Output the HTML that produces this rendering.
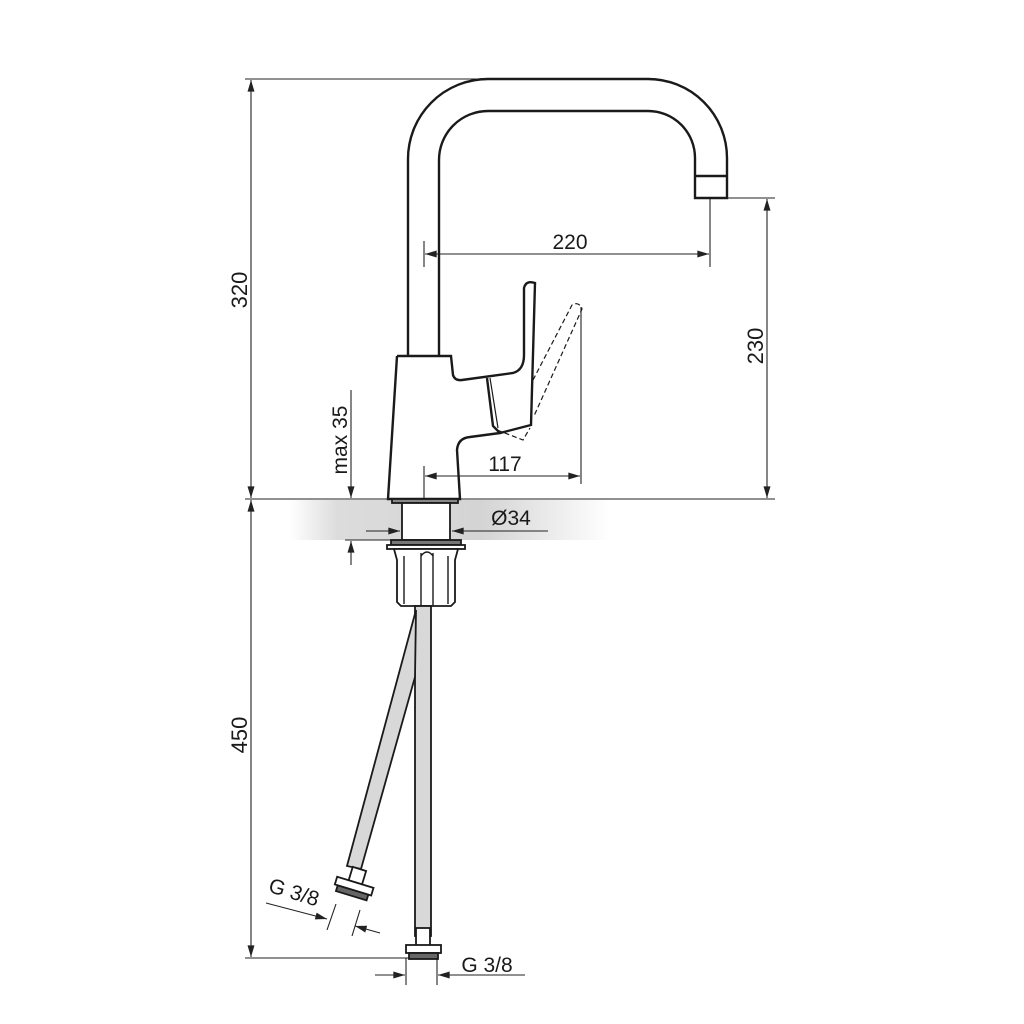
<!DOCTYPE html>
<html><head><meta charset="utf-8"><style>
html,body{margin:0;padding:0;background:#fff}
svg{display:block}
text{font-family:"Liberation Sans",sans-serif;fill:#1a1a1a}
</style></head><body>
<svg width="1024" height="1024" viewBox="0 0 1024 1024" xmlns="http://www.w3.org/2000/svg">
<defs>
<linearGradient id="g" x1="0" x2="1" y1="0" y2="0">
<stop offset="0" stop-color="#fff"/><stop offset="0.15" stop-color="#dcdcdc"/><stop offset="0.6" stop-color="#d4d4d4"/><stop offset="1" stop-color="#fff"/>
</linearGradient>
<marker id="a" viewBox="0 0 10 6" refX="10" refY="3" markerWidth="12" markerHeight="7" orient="auto-start-reverse" markerUnits="userSpaceOnUse"><path d="M0,0L10,3L0,6z" fill="#222"/></marker>
</defs>
<rect x="290" y="500" width="320" height="40" fill="url(#g)"/>
<g stroke="#222" fill="none" stroke-width="1.1">
<line x1="245" y1="79" x2="478" y2="79"/>
<line x1="245" y1="499" x2="775" y2="499"/>
<line x1="245" y1="958" x2="410" y2="958"/>
<line x1="710" y1="198" x2="775" y2="198"/>
<line x1="251" y1="80" x2="251" y2="498" marker-start="url(#a)" marker-end="url(#a)"/>
<line x1="251" y1="500" x2="251" y2="957" marker-start="url(#a)" marker-end="url(#a)"/>
<line x1="767" y1="199" x2="767" y2="498" marker-start="url(#a)" marker-end="url(#a)"/>
<line x1="424" y1="241" x2="424" y2="267"/>
<line x1="710" y1="198" x2="710" y2="267"/>
<line x1="425" y1="254" x2="709" y2="254" marker-start="url(#a)" marker-end="url(#a)"/>
<line x1="581" y1="307" x2="581" y2="484"/>
<line x1="424" y1="466" x2="424" y2="499"/>
<line x1="425" y1="476" x2="580" y2="476" marker-start="url(#a)" marker-end="url(#a)"/>
<line x1="351" y1="390" x2="351" y2="498" marker-end="url(#a)"/>
<line x1="351" y1="565" x2="351" y2="541" marker-end="url(#a)"/>
<line x1="345" y1="540" x2="400" y2="540"/>
<line x1="366" y1="531" x2="400" y2="531" marker-end="url(#a)"/>
<line x1="548" y1="531" x2="452" y2="531" marker-end="url(#a)"/>
<line x1="406" y1="958" x2="406" y2="985"/>
<line x1="437" y1="958" x2="437" y2="985"/>
<line x1="375" y1="975" x2="405" y2="975" marker-end="url(#a)"/>
<line x1="525" y1="975" x2="438" y2="975" marker-end="url(#a)"/>
<line x1="266" y1="903" x2="327" y2="919" marker-end="url(#a)"/>
<line x1="380" y1="933" x2="355" y2="926" marker-end="url(#a)"/>
<line x1="336" y1="904" x2="327" y2="930"/>
<line x1="360" y1="910" x2="352" y2="936"/>
</g>
<g stroke="#1a1a1a" stroke-width="2.4" fill="none">
<path d="M408,356 L408,160 A80,80 0 0 1 488,79 L648,79 A79,79 0 0 1 727,158 L727,198 L695,198 L695,158 A47,47 0 0 0 648,111 L488,111 A49,49 0 0 0 439,160 L439,356"/>
<line x1="695" y1="176" x2="727" y2="176"/>
<path d="M397,356 L451,356 L453,375 Q455,381 462,380 L513,373 Q524,370 524,355 L524,288 Q526,280 535,283 L531,425 L500,433 L493,426 L487,378" fill="#fff"/>
<path d="M397,356 L388,499 L460,499 L457,450 Q458,438 470,437 L500,433"/>
<path d="M490,378 L498,428" stroke-width="1.2"/>
</g>
<path d="M533,380 L572,305 Q579,301 582,309 L534,416 M497,430 L523,440 L530,428" stroke="#1a1a1a" stroke-width="1.2" fill="none" stroke-dasharray="5,3"/>
<g stroke="#1a1a1a" stroke-width="1.8" fill="#fff">
<rect x="392" y="499" width="66" height="4" fill="#888"/>
<rect x="402" y="503" width="48" height="37"/>
<rect x="391" y="540" width="70" height="5" fill="#777"/>
<rect x="387" y="545" width="78" height="4"/>
<path d="M394,549 L458,549 L455,560 L455,602 L451,606 L401,606 L397,602 L397,560 Z"/>
<path d="M404,556 L404,604 M421,553 L421,606 M433,553 L433,606 M448,556 L448,604" stroke-width="1.4"/>
<path d="M421,556 Q427,548 433,556" stroke-width="1.4" fill="none"/>
<rect x="415" y="606" width="16" height="330" fill="#d8d8d8"/>
<polygon points="416,610 415,677 361,869 347,866" fill="#d8d8d8"/>
<rect x="416" y="928" width="14" height="18"/>
<rect x="406" y="945" width="35" height="8"/>
<rect x="409" y="953" width="29" height="6" fill="#666"/>
<g transform="translate(353,890) rotate(17)">
<rect x="-7" y="-22" width="14" height="14"/>
<rect x="-19" y="-8" width="38" height="8"/>
<rect x="-16" y="0" width="32" height="6" fill="#666"/>
</g>
</g>
<text x="570" y="249" font-size="21" text-anchor="middle">220</text>
<text x="505" y="471" font-size="21" text-anchor="middle">117</text>
<text x="511" y="525" font-size="21" text-anchor="middle">Ø34</text>
<text x="487" y="972" font-size="21" text-anchor="middle">G 3/8</text>
<text transform="translate(292,899) rotate(17)" font-size="21" text-anchor="middle">G 3/8</text>
<text transform="translate(247,290) rotate(-90)" font-size="22" text-anchor="middle">320</text>
<text transform="translate(247,735) rotate(-90)" font-size="22" text-anchor="middle">450</text>
<text transform="translate(763,346) rotate(-90)" font-size="22" text-anchor="middle">230</text>
<text transform="translate(347,440) rotate(-90)" font-size="21" text-anchor="middle">max 35</text>
</svg>
</body></html>
